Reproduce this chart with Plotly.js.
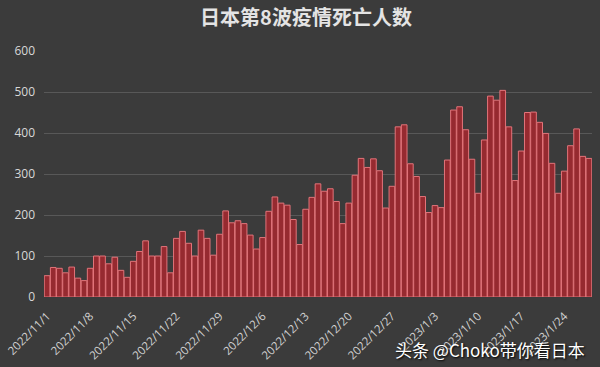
<!DOCTYPE html>
<html>
<head>
<meta charset="utf-8">
<script src="https://cdn.plot.ly/plotly-3.0.1.min.js"></script>
<style>html,body{margin:0;padding:0;background:#3b3b3b;}#chart{width:600px;height:367px;}</style>
</head>
<body>
<div id="chart"></div>
<script>
// Daily deaths, Japan 8th wave, 2022/11/1 – 2023/1/28
const startDate = '2022-11-01';
const deaths = [
  52, 72, 70, 59, 73, 46, 40, 70, 100, 100, 81, 97, 65, 48, 87, 111, 137, 100, 100, 123,
  59, 143, 160, 131, 100, 163, 143, 102, 153, 210, 181, 186, 179, 151, 117, 145, 209, 244, 229, 224,
  189, 128, 214, 243, 276, 258, 264, 233, 179, 229, 297, 338, 316, 337, 308, 217, 270, 415, 420, 325,
  294, 245, 206, 223, 218, 334, 456, 464, 408, 336, 253, 383, 490, 480, 504, 415, 284, 356, 450, 451,
  426, 399, 326, 253, 307, 369, 410, 343, 338
];
const yTicks = [0, 100, 200, 300, 400, 500, 600];
const titleText = '日本第8波疫情死亡人数';
const watermark = '头条 @Choko带你看日本';

// consecutive day categories
const dates = [];
const d0 = new Date(startDate + 'T00:00:00Z');
for (let i = 0; i < deaths.length; i++) {
  const d = new Date(d0.getTime() + i * 86400000);
  dates.push(d.toISOString().slice(0, 10));
}
const lastDate = new Date(d0.getTime() + (deaths.length - 1) * 86400000);

const trace = {
  type: 'bar',
  x: dates,
  y: deaths,
  marker: { color: '#962a30', line: { color: '#e2747a', width: 1 } },
  hoverinfo: 'x+y'
};

const layout = {
  width: 600, height: 367,
  paper_bgcolor: '#3b3b3b',
  plot_bgcolor: '#3b3b3b',
  margin: { l: 44, r: 8, t: 51, b: 70 },
  bargap: 0.08,
  showlegend: false,
  title: {
    text: '<b>' + titleText + '</b>',
    font: { family: 'Noto Sans CJK SC, sans-serif', size: 20, color: '#e4e4e4' },
    x: 0.51, xanchor: 'center', y: 0.95, yanchor: 'middle', xref: 'container', yref: 'container'
  },
  xaxis: {
    type: 'date',
    range: [new Date(d0.getTime() - 43200000).toISOString(), new Date(lastDate.getTime() + 43200000).toISOString()],
    tick0: startDate,
    dtick: 7 * 86400000,
    tickformat: '%Y/%-m/%-d',
    tickangle: -45,
    ticks: 'outside', ticklen: 7, tickcolor: 'rgba(0,0,0,0)',
    tickfont: { family: 'Open Sans, sans-serif', size: 11.5, color: '#d2d2d2' },
    showgrid: false, zeroline: false, showline: false
  },
  yaxis: {
    range: [0, 600],
    tickvals: yTicks,
    ticktext: yTicks.map(String),
    tickfont: { family: 'Open Sans, sans-serif', size: 12, color: '#d8d8d8' },
    gridcolor: '#585858', gridwidth: 1,
    zeroline: false, showline: false,
    ticklabelstandoff: 8
  },
  annotations: [{
    text: watermark,
    xref: 'paper', yref: 'paper',
    x: 0.99, y: -0.215, xanchor: 'right', yanchor: 'middle',
    showarrow: false,
    font: { family: 'Noto Sans CJK SC, sans-serif', size: 17, color: '#ffffff', shadow: '1px 1px 2px #000' }
  }]
};

Plotly.newPlot('chart', [trace], layout, { displayModeBar: false, staticPlot: true });
</script>
</body>
</html>
